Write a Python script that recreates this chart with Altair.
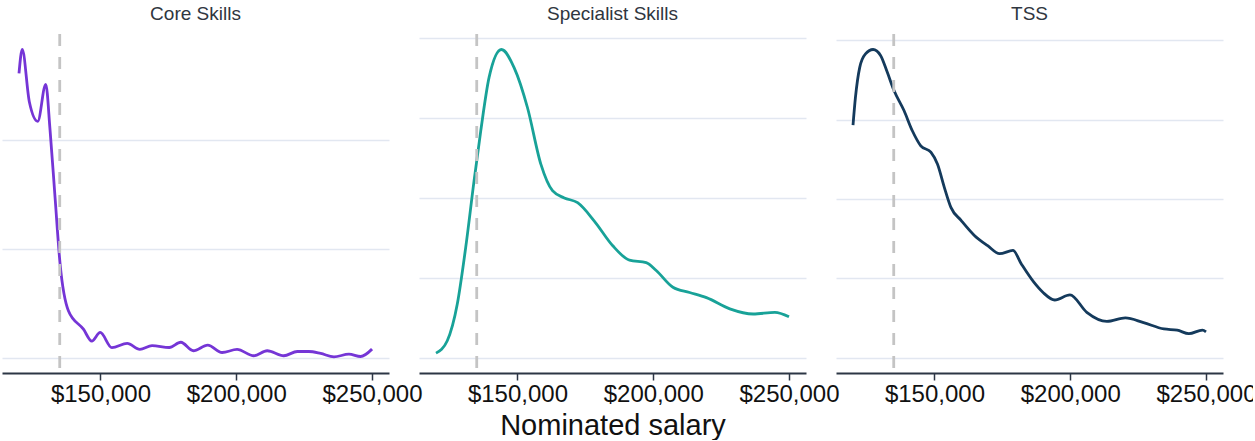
import altair as alt
import pandas as pd

# Kernel density of nominated salary, by visa stream (density in units of 1e-5 per $)
core_salary = [120000, 121200, 123800, 126900, 129850, 131440, 133280, 135130, 138190,
               143730, 146830, 149900, 154200, 159850, 164500, 169000, 175350, 179600,
               184200, 189500, 194800, 200300, 206500, 211400, 217500, 222500, 226750,
               231100, 236000, 241500, 245800, 250000]
core_density = [2.61, 2.83, 2.35, 2.17, 2.51, 2.09, 1.47, 0.86, 0.43,
                0.26, 0.15, 0.23, 0.09, 0.13, 0.075, 0.11, 0.092, 0.14,
                0.062, 0.114, 0.046, 0.074, 0.016, 0.062, 0.016, 0.055, 0.055,
                0.037, 0.006, 0.031, 0.009, 0.077]

spec_salary = [120000, 124150, 127840, 130940, 134000, 136480, 139550, 144100, 148800,
               153700, 158640, 162900, 167250, 172150, 178300, 185100, 191250, 197400,
               201100, 207250, 213400, 219600, 228200, 236800, 244800, 250000]
spec_density = [0.055, 0.21, 0.67, 1.38, 2.21, 2.84, 3.51, 3.86, 3.63,
                3.13, 2.42, 2.09, 2.0, 1.94, 1.71, 1.40, 1.22, 1.19,
                1.09, 0.88, 0.815, 0.75, 0.61, 0.545, 0.565, 0.51]

tss_salary = [120000, 120900, 122480, 124600, 127400, 130150, 132600, 135070, 138780,
              141850, 144960, 148670, 151100, 153600, 156100, 159800, 164700, 169600,
              174000, 178900, 182000, 186600, 190000, 194300, 199900, 206100, 213500,
              220300, 227000, 234500, 239400, 243700, 248700, 250000]
tss_density = [2.93, 3.28, 3.66, 3.83, 3.885, 3.81, 3.60, 3.37, 3.115,
               2.86, 2.67, 2.59, 2.44, 2.15, 1.89, 1.73, 1.54, 1.41,
               1.31, 1.35, 1.18, 0.95, 0.82, 0.725, 0.79, 0.57, 0.455,
               0.50, 0.44, 0.36, 0.345, 0.30, 0.346, 0.324]

threshold = 135000
x_ticks = [150000, 200000, 250000]

panels = [
    ("Core Skills", core_salary, core_density, "#7535d6", [0, 1, 2], None),
    ("Specialist Skills", spec_salary, spec_density, "#18a298", [0, 1, 2, 3, 4], "Nominated salary"),
    ("TSS", tss_salary, tss_density, "#143a5c", [0, 1, 2, 3, 4], None),
]

FONT = "Liberation Sans"
AXIS_DARK = "#2c3645"


def panel(name, salary, density, color, grid_values, x_title):
    df = pd.DataFrame({"salary": salary, "density": density})
    x_axis = alt.Axis(
        values=x_ticks, format="$,.0f", grid=False,
        labelFontSize=24, labelColor="#111111", labelFont=FONT, labelPadding=2,
        tickSize=7, tickColor=AXIS_DARK, tickWidth=1.5,
        domainColor=AXIS_DARK, domainWidth=2,
        titleFontSize=29, titleFont=FONT, titleFontWeight="normal",
        titleColor="#111111", titlePadding=5,
    )
    x_enc = alt.X("salary:Q", scale=alt.Scale(zero=False, nice=False, padding=17),
                  axis=x_axis, title=x_title if x_title else "")
    y_enc = alt.Y("density:Q", scale=alt.Scale(zero=True, nice=False, padding=15.5),
                  axis=alt.Axis(values=grid_values, labels=False, ticks=False, domain=False,
                                grid=True, gridColor="#e2e7f1", gridWidth=1.3, title=None))

    rule = alt.Chart(pd.DataFrame({"salary": [threshold]})).mark_rule(
        color="#c4c4c4", strokeDash=[12, 11], strokeWidth=2.8
    ).encode(x=alt.X("salary:Q"))

    line = alt.Chart(df).mark_line(
        color=color, strokeWidth=2.8, interpolate="monotone"
    ).encode(x=x_enc, y=y_enc)

    return alt.layer(line, rule).properties(
        width=387, height=339,
        title=alt.TitleParams(name, fontSize=19, font=FONT, fontWeight="normal",
                              color="#2f3640", offset=9),
    )


chart = alt.hconcat(*[panel(*p) for p in panels], spacing=30, bounds="flush").properties(
    padding={"left": 2, "top": 4, "right": -4, "bottom": 0},
    background="white",
).configure_view(stroke=None)

chart.save("out.html", embed_options={"renderer": "svg", "actions": False})
